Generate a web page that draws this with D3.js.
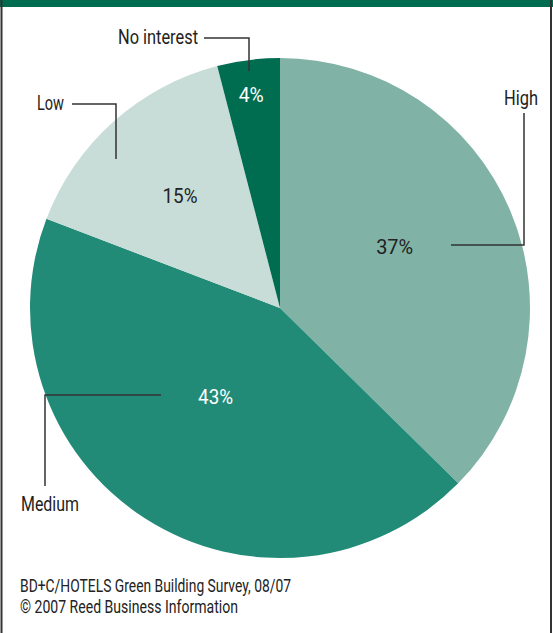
<!DOCTYPE html>
<html><head><meta charset="utf-8">
<script src="https://cdn.jsdelivr.net/npm/d3@7/dist/d3.min.js"></script>
<style>
html,body{margin:0;padding:0;background:#fff;}
svg{display:block;}
text{font-family:Roboto,"Liberation Sans",sans-serif;}
</style></head>
<body>
<script>
const categories = ["High", "Medium", "Low", "No interest"];
const values = [37, 43, 15, 4];
const labels = ["37%", "43%", "15%", "4%"];
const colors = ["#80b3a6", "#218b77", "#c8ddd8", "#006c50"];
const labelColors = ["#222", "#fff", "#222", "#fff"];
const footer = ["BD+C/HOTELS Green Building Survey, 08/07", "\u00a9 2007 Reed Business Information"];

const W = 553, H = 633;
const cx = 280, cy = 308, R = 250;

const svg = d3.select("body").append("svg").attr("width", W).attr("height", H);

// fit condensed look: squeeze text to a target width
function fit(sel, widths) {
  sel.each(function(d, i) {
    const w = widths[i];
    if (w) d3.select(this).attr("textLength", w).attr("lengthAdjust", "spacingAndGlyphs");
  });
}

// frame
svg.append("rect").attr("x", 0).attr("y", 0).attr("width", W).attr("height", 7).attr("fill", "#006c50");
svg.append("line").attr("x1", 1.5).attr("x2", 1.5).attr("y1", 0).attr("y2", H).attr("stroke", "#333").attr("stroke-width", 2);
svg.append("line").attr("x1", 551).attr("x2", 551).attr("y1", 0).attr("y2", H).attr("stroke", "#333").attr("stroke-width", 2);

const pie = d3.pie().sort(null).value(d => d);
const arcs = pie(values);
const arc = d3.arc().innerRadius(0).outerRadius(R);

const g = svg.append("g").attr("transform", `translate(${cx},${cy})`);
g.selectAll("path").data(arcs).join("path")
  .attr("d", arc)
  .attr("fill", (d, i) => colors[i]);

// percent label placement: radius fraction and position along slice angle
const pctPos = [{r: 0.52, t: 0.46}, {r: 0.44, t: 0.52}, {r: 0.60, t: 0.50}, {r: 0.86, t: 0.47}];
const pctW = [37, 35, 35, 25];
const pct = g.selectAll("text.pct").data(arcs).join("text")
  .attr("class", "pct")
  .attr("transform", (d, i) => {
    const p = pctPos[i];
    const a = d.startAngle + (d.endAngle - d.startAngle) * p.t;
    const rr = R * p.r;
    return `translate(${rr * Math.sin(a)},${-rr * Math.cos(a)})`;
  })
  .attr("text-anchor", "middle")
  .attr("dy", "0.36em")
  .attr("font-size", 20)
  .attr("fill", (d, i) => labelColors[i])
  .text((d, i) => labels[i]);
fit(pct, pctW);

// leader lines and category labels
const leaders = [
  {pts: [[524, 113], [524, 245], [451, 245]], tx: 538, ty: 105, anchor: "end", w: 34},
  {pts: [[45, 486], [45, 395], [161, 395]], tx: 21, ty: 511, anchor: "start", w: 58},
  {pts: [[72, 104], [116, 104], [116, 159]], tx: 64, ty: 110, anchor: "end", w: 27},
  {pts: [[204, 38], [249, 38], [249, 71]], tx: 198, ty: 44, anchor: "end", w: 80}
];
const line = d3.line();
svg.selectAll("path.lead").data(leaders).join("path")
  .attr("class", "lead")
  .attr("d", d => line(d.pts))
  .attr("fill", "none")
  .attr("stroke", "#333")
  .attr("stroke-width", 1.5);
const cat = svg.selectAll("text.cat").data(leaders).join("text")
  .attr("class", "cat")
  .attr("x", d => d.tx).attr("y", d => d.ty)
  .attr("text-anchor", d => d.anchor)
  .attr("font-size", 21)
  .attr("fill", "#222")
  .text((d, i) => categories[i]);
fit(cat, leaders.map(d => d.w));

const foot = svg.selectAll("text.foot").data(footer).join("text")
  .attr("class", "foot")
  .attr("x", 20).attr("y", (d, i) => 592 + i * 21)
  .attr("font-size", 19)
  .attr("fill", "#222")
  .text(d => d);
fit(foot, [271, 218]);
</script>
</body></html>
